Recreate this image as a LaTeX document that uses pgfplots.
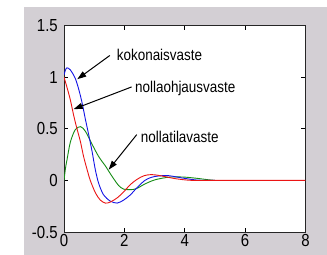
\documentclass[border=0pt]{standalone}
\usepackage{pgfplots}
\pgfplotsset{compat=1.18}
\usepackage{fontspec}
\setmainfont{Liberation Sans}[FakeStretch=0.86]
\usetikzlibrary{backgrounds,arrows.meta}
\definecolor{bggrey}{RGB}{211,207,212}
\definecolor{mblue}{RGB}{20,20,230}
\definecolor{mgreen}{RGB}{20,140,20}
\definecolor{mred}{RGB}{235,20,20}
\begin{document}
\begin{tikzpicture}
\begin{axis}[
  at={(0,0)}, anchor=south west,
  scale only axis, width=241.5bp, height=206.5bp,
  xmin=0, xmax=8, ymin=-0.5, ymax=1.5,
  xtick={0,2,4,6,8}, ytick={-0.5,0,0.5,1,1.5},
  xticklabels={0,2,4,6,8}, yticklabels={-0.5,0,0.5,1,1.5},
  tick align=inside, major tick length=4bp,
  tick style={line width=0.7bp, black},
  axis line style={line width=0.8bp, black!85},
  axis background/.style={fill=white},
  tick label style={font=\fontsize{17.5}{18}\selectfont, inner sep=0pt},
  xticklabel style={yshift=-2bp},
  yticklabel style={xshift=-6bp},
  clip=true,
]
\addplot[mgreen, line width=0.9bp, smooth, tension=0.5] coordinates {
(0,0) (0.05,0.12) (0.1,0.2) (0.21,0.37) (0.37,0.49) (0.55,0.52) (0.71,0.475)
(0.93,0.35) (1.15,0.23) (1.37,0.14) (1.59,0.04) (1.81,-0.05) (1.98,-0.085)
(2.2,-0.09) (2.4,-0.08) (2.68,-0.035) (3.01,0.005) (3.45,0.03) (3.9,0.033)
(4.34,0.022) (4.78,0.006) (5.0,0)
};
\addplot[mblue, line width=0.9bp, smooth, tension=0.5] coordinates {
(0,1.02) (0.05,1.07) (0.1,1.09) (0.21,1.07) (0.37,0.99) (0.49,0.88) (0.6,0.75)
(0.71,0.59) (0.82,0.44) (0.93,0.28) (1.04,0.10) (1.15,-0.03) (1.31,-0.14)
(1.53,-0.20) (1.76,-0.22) (1.98,-0.19) (2.2,-0.14) (2.42,-0.07) (2.68,0.0)
(2.9,0.03) (3.12,0.042) (3.45,0.046) (3.9,0.024) (4.34,0.005) (4.7,0.0) (5.0,0.0)
};
\addplot[mred, line width=0.9bp, smooth, tension=0.5] coordinates {
(0,1.0) (0.1,0.9) (0.21,0.78) (0.32,0.63) (0.43,0.5) (0.54,0.38) (0.65,0.23)
(0.76,0.11) (0.87,0.0) (1.04,-0.12) (1.2,-0.19) (1.37,-0.22) (1.53,-0.21)
(1.76,-0.17) (1.98,-0.11) (2.2,-0.04) (2.42,0.01) (2.65,0.045) (2.9,0.056)
(3.2,0.045) (3.68,0.017) (4.23,0.0) (5,0) (6,0) (7,0) (8,0)
};
\draw[line width=1bp, -{Triangle[length=9bp,width=6bp]}] (axis cs:1.52,1.21) -- (axis cs:0.44,0.98);
\draw[line width=1bp, -{Triangle[length=9bp,width=6bp]}] (axis cs:2.24,0.905) -- (axis cs:0.32,0.69);
\draw[line width=1bp, -{Triangle[length=9bp,width=6bp]}] (axis cs:2.41,0.443) -- (axis cs:1.48,0.104);
\node[anchor=west, inner sep=0pt, font=\fontsize{15.7}{17}\selectfont] at (axis cs:1.745,1.218) {kokonaisvaste};
\node[anchor=west, inner sep=0pt, font=\fontsize{15.7}{17}\selectfont] at (axis cs:2.35,0.895) {nollaohjausvaste};
\node[anchor=west, inner sep=0pt, font=\fontsize{15.7}{17}\selectfont] at (axis cs:2.54,0.417) {nollatilavaste};
\end{axis}
\begin{scope}[on background layer]
\fill[white] (-64bp,-23bp) rectangle (263bp,232bp);
\fill[bggrey] (-40bp,-23bp) rectangle (263bp,225bp);
\end{scope}
\path[use as bounding box] (-64bp,-23bp) rectangle (263bp,232bp);
\end{tikzpicture}
\end{document}
